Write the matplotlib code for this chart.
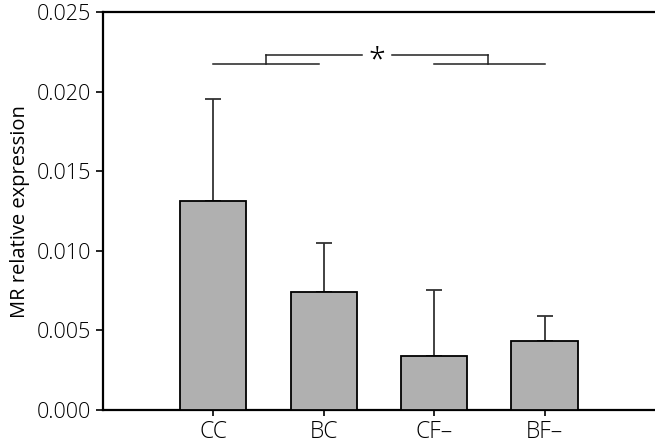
import matplotlib
matplotlib.use("Agg")
import matplotlib.pyplot as plt
import numpy as np

categories = ["CC", "BC", "CF\u2013", "BF\u2013"]
means = [0.01314, 0.00742, 0.00340, 0.00432]
errors = [0.00642, 0.00310, 0.00415, 0.00159]

# significance bracket values
low_y = 0.02176
high_y = 0.02233

plt.rcParams['font.family'] = ['Open Sans', 'DejaVu Sans']
plt.rcParams['font.weight'] = 'light'

fig = plt.figure(figsize=(6.55, 4.45), dpi=100)
ax = fig.add_axes([0.157, 0.0787, 0.843, 0.8933])

x = np.arange(len(categories))
ax.bar(x, means, width=0.6, color="#b0b0b0", edgecolor="black", linewidth=1.3, zorder=3)
ax.errorbar(x, means, yerr=[np.zeros(len(means)), errors], fmt="none",
            ecolor="#333333", elinewidth=1.3, capsize=6, capthick=1.3, zorder=2)

lc = "#222222"
lw = 1.1
# left pair
ax.plot([0, 0.955], [low_y, low_y], color=lc, lw=lw)
ax.plot([0.48, 0.48], [low_y, high_y], color=lc, lw=lw)
ax.plot([0.48, 1.35], [high_y, high_y], color=lc, lw=lw)
# right pair
ax.plot([2.0, 3.0], [low_y, low_y], color=lc, lw=lw)
ax.plot([2.49, 2.49], [low_y, high_y], color=lc, lw=lw)
ax.plot([1.62, 2.49], [high_y, high_y], color=lc, lw=lw)
ax.annotate("*", xy=(1.485, high_y), xytext=(0, -5), textcoords="offset points",
            ha="center", va="center", fontsize=22)

ax.set_xlim(-1.0, 4.0)
ax.set_ylim(0, 0.025)
ax.set_yticks([0, 0.005, 0.010, 0.015, 0.020, 0.025])
ax.set_yticklabels(["0.000", "0.005", "0.010", "0.015", "0.020", "0.025"])
ax.set_xticks(x)
ax.set_xticklabels(categories)
ax.tick_params(axis="y", labelsize=15.5, width=1.2, length=5, direction="out")
ax.tick_params(axis="x", labelsize=16.5, width=1.2, length=4, pad=3, direction="out")
ax.set_ylabel("MR relative expression", fontsize=14.5, labelpad=5)

for s in ["left", "bottom", "top"]:
    ax.spines[s].set_linewidth(1.6)
ax.spines["right"].set_visible(False)

fig.savefig("out.png", dpi=100)
